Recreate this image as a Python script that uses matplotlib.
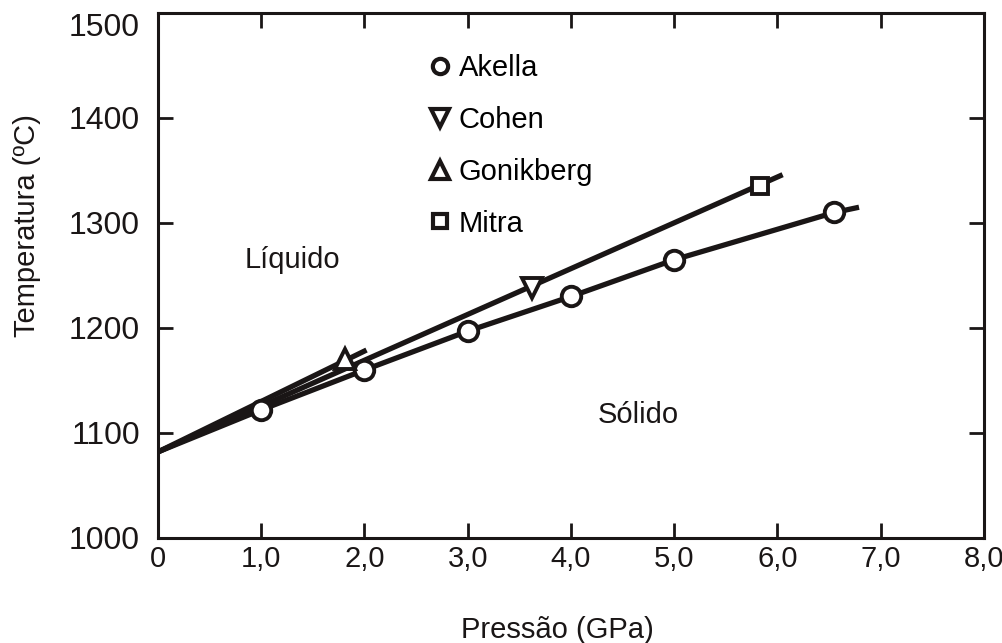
import matplotlib
matplotlib.use("Agg")
import matplotlib.pyplot as plt
from matplotlib.lines import Line2D
from matplotlib import font_manager

plt.rcParams['font.family'] = ['Liberation Sans', 'DejaVu Sans']

# --- data ---
akella_p = [1.0, 2.0, 3.0, 4.0, 5.0, 6.55]
akella_t = [1122, 1160, 1197, 1230, 1265, 1310]
cohen_p = [3.62]
cohen_t = [1238]
gonik_p = [1.81]
gonik_t = [1170]
mitra_p = [5.83]
mitra_t = [1335]

# curves drawn in the figure
akella_curve_p = [0.0, 1.0, 2.0, 3.0, 4.0, 5.0, 6.55, 6.79]
akella_curve_t = [1082, 1122, 1160, 1197, 1230, 1265, 1310, 1315]
upper_curve_p = [0.0, 6.05]
upper_curve_t = [1082, 1346]
gonik_curve_p = [0.0, 2.02]
gonik_curve_t = [1082, 1179]

xticks = [0, 1, 2, 3, 4, 5, 6, 7, 8]
xticklabels = ['0', '1,0', '2,0', '3,0', '4,0', '5,0', '6,0', '7,0', '8,0']
yticks = [1000, 1100, 1200, 1300, 1400, 1500]

labels = ['Akella', 'Cohen', 'Gonikberg', 'Mitra']

ink = '#1a1616'

fig = plt.figure(figsize=(10.03, 6.43), dpi=100)
ax = fig.add_axes([0.1575, 0.1633, 0.8235, 0.8165])

lw = 3.8
ax.plot(akella_curve_p, akella_curve_t, color=ink, lw=lw, zorder=2, solid_capstyle='butt')
ax.plot(upper_curve_p, upper_curve_t, color=ink, lw=lw, zorder=2, solid_capstyle='butt')
ax.plot(gonik_curve_p, gonik_curve_t, color=ink, lw=lw, zorder=2, solid_capstyle='butt')

mkw = dict(linestyle='none', markerfacecolor='white', markeredgecolor=ink,
           markeredgewidth=2.8, zorder=3)
ax.plot(akella_p, akella_t, marker='o', markersize=14, **mkw)
ax.plot(cohen_p, cohen_t, marker='v', markersize=15, **mkw)
ax.plot(gonik_p, gonik_t, marker='^', markersize=14, **mkw)
ax.plot(mitra_p, mitra_t, marker='s', markersize=12, **mkw)

lkw = dict(mkw, markeredgewidth=3.0)
handles = [
    Line2D([], [], marker='o', markersize=11, **lkw),
    Line2D([], [], marker='v', markersize=13, **lkw),
    Line2D([], [], marker='^', markersize=13, **lkw),
    Line2D([], [], marker='s', markersize=10, **lkw),
]
leg = ax.legend(handles, labels, loc='upper left', bbox_to_anchor=(0.327, 0.922),
                frameon=False, fontsize=21, handlelength=0.8, handletextpad=0.25,
                labelspacing=0.82, borderpad=0, borderaxespad=0)

ax.text(1.3, 1265, 'Líquido', fontsize=21, ha='center', va='center', color=ink)
ax.text(4.65, 1117, 'Sólido', fontsize=21, ha='center', va='center', color=ink)

ax.set_xlim(0, 8)
ax.set_ylim(1000, 1500)
ax.set_xticks(xticks)
ax.set_xticklabels(xticklabels)
ax.set_yticks(yticks)
ax.tick_params(direction='in', length=11, width=2, top=True, right=True,
               labelsize=23, colors=ink)
ax.tick_params(axis='x', pad=5)
ax.tick_params(axis='y', pad=13)
for s in ax.spines.values():
    s.set_linewidth(2.2)
    s.set_color(ink)

# x tick labels in a narrower face, like the reference
narrow = [f for f in ('Liberation Sans Narrow',) if any(
    fe.name == f for fe in font_manager.fontManager.ttflist)]
for lab in ax.get_xticklabels():
    lab.set_fontfamily(narrow + ['Liberation Sans', 'DejaVu Sans'])
    lab.set_fontsize(24 if narrow else 21)
xl = ax.get_xticklabels()
xl[-1].set_ha('center')
# top y tick label sits a bit lower in the reference
ax.get_yticklabels()[-1].set_va('top')

ax.set_xlabel('Pressão (GPa)', fontsize=21, color=ink)
ax.xaxis.set_label_coords(0.483, -0.148)
ax.set_ylabel('Temperatura (ºC)', fontsize=21, color=ink)
ax.yaxis.set_label_coords(-0.142, 0.596)

fig.savefig('out.png', dpi=100)
